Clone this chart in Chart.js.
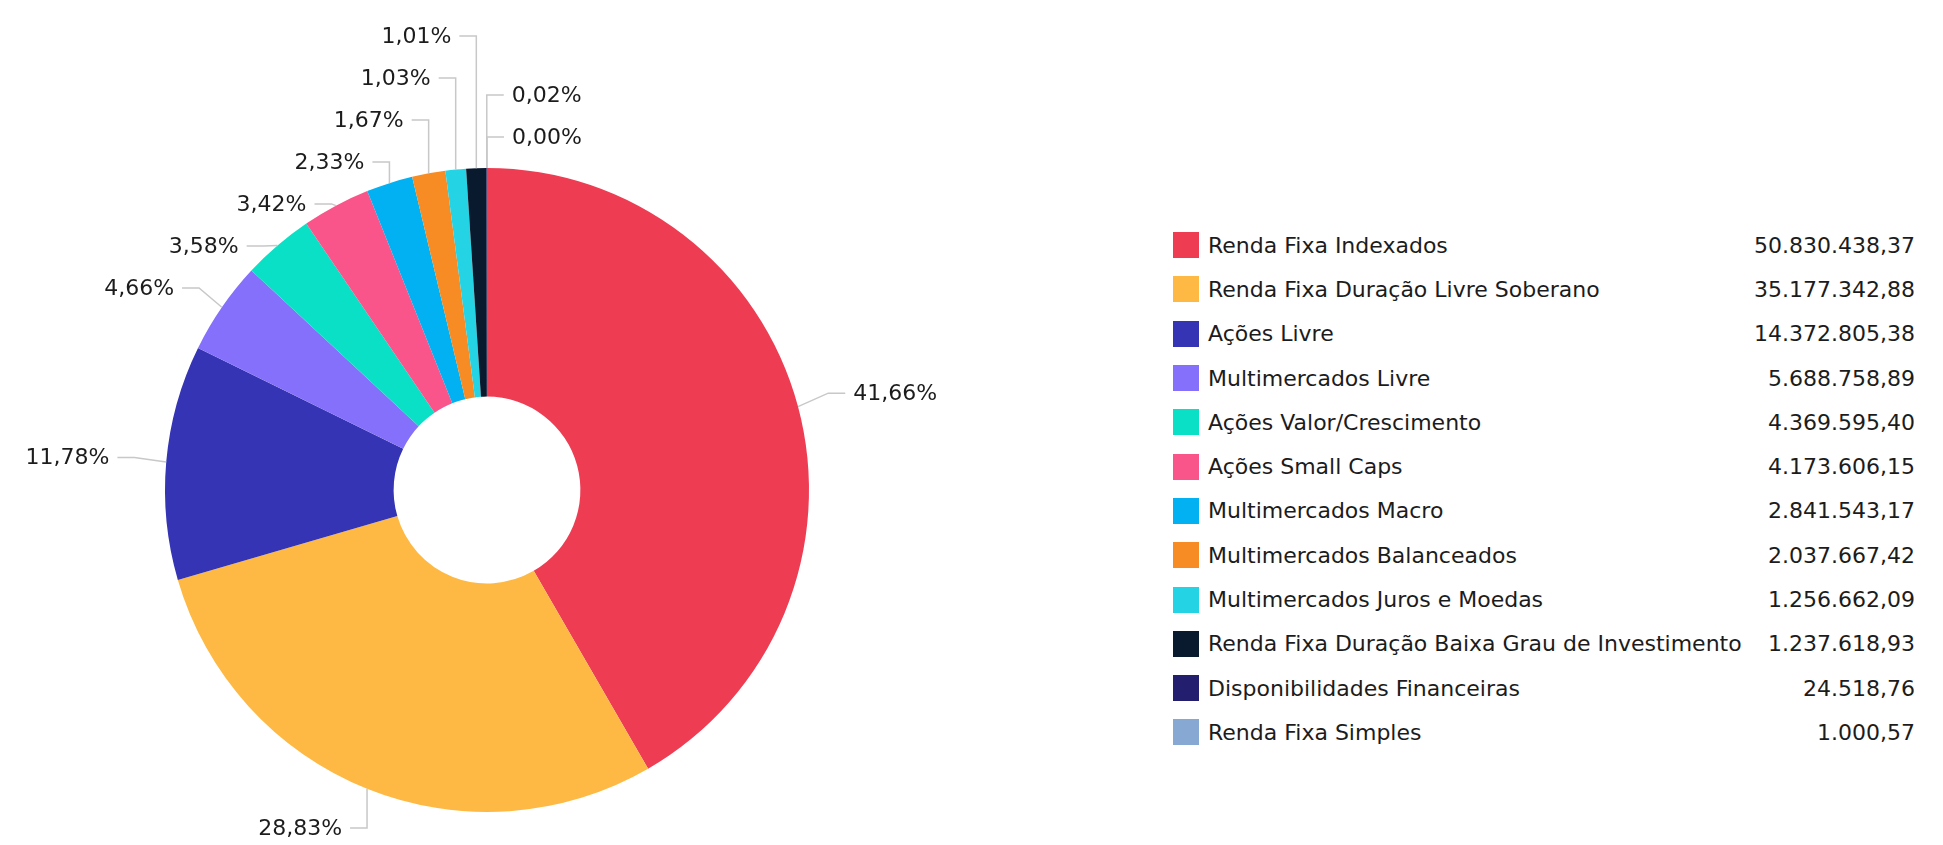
<!DOCTYPE html>
<html>
<head>
<meta charset="utf-8">
<script src="https://cdn.jsdelivr.net/npm/chart.js@4.4.1/dist/chart.umd.min.js"></script>
<style>
  html, body { margin: 0; padding: 0; background: #fff; }
  body { width: 1943px; height: 845px; position: relative; overflow: hidden; font-family: "DejaVu Sans", Verdana, sans-serif; color: #1c1c1c; }
  #chartBox { position: absolute; left: 0; top: 0; width: 975px; height: 845px; }
  #legend { position: absolute; left: 1173px; top: 223px; width: 742px; font-size: 22px; }
  .row { display: flex; align-items: center; height: 44.3px; }
  .swatch { width: 26px; height: 26px; margin-right: 9px; flex: none; }
  .name { flex: 1; white-space: nowrap; }
  .val { white-space: nowrap; text-align: right; }
</style>
</head>
<body>
<div id="chartBox"><canvas id="pieChart"></canvas></div>
<div id="legend"></div>
<script>
// Data
const categories = [
    'Renda Fixa Indexados',
    'Renda Fixa Duração Livre Soberano',
    'Ações Livre',
    'Multimercados Livre',
    'Ações Valor/Crescimento',
    'Ações Small Caps',
    'Multimercados Macro',
    'Multimercados Balanceados',
    'Multimercados Juros e Moedas',
    'Renda Fixa Duração Baixa Grau de Investimento',
    'Disponibilidades Financeiras',
    'Renda Fixa Simples'
];
const values = [
    50830438.37, 35177342.88, 14372805.38, 5688758.89, 4369595.40, 4173606.15,
    2841543.17, 2037667.42, 1256662.09, 1237618.93, 24518.76, 1000.57
];
const colors = [
    '#ee3d53', '#feb944', '#3434b4', '#8470fb', '#0ae0c6', '#f9558a',
    '#02b1f2', '#f78b24', '#25d4e4', '#0a1a2e', '#231e6e', '#88a8d4'
];

const total = values.reduce((a, b) => a + b, 0);
const FONT = '22px "DejaVu Sans", Verdana, sans-serif';

// Helpers
function formatMoney(v) {
    const parts = v.toFixed(2).split('.');
    const int = parts[0].replace(/\B(?=(\d{3})+(?!\d))/g, '.');
    return int + ',' + parts[1];
}

function formatPct(v) {
    return (v / total * 100).toFixed(2).replace('.', ',') + '%';
}

// Legend (HTML)
const legendEl = document.getElementById('legend');
legendEl.innerHTML = categories.map((c, i) => `
    <div class="row">
        <div class="swatch" style="background:${colors[i]}"></div>
        <div class="name">${c}</div>
        <div class="val">${formatMoney(values[i])}</div>
    </div>`).join('');

// Spread labels on one side so they do not overlap
function spread(list, gap, minY, maxY) {
    list.sort((a, b) => (Math.round(a.ideal) - Math.round(b.ideal)) || (a.i - b.i));
    const groups = [];
    const fit = g => {
        let t = g.items.reduce((s, l, j) => s + l.ideal - j * gap, 0) / g.items.length;
        t = Math.max(minY, Math.min(maxY - (g.items.length - 1) * gap, t));
        g.top = t;
    };
    list.forEach(l => {
        const g = { items: [l] };
        fit(g);
        groups.push(g);
        while (groups.length > 1) {
            const cur = groups[groups.length - 1];
            const prev = groups[groups.length - 2];
            if (prev.top + prev.items.length * gap <= cur.top) break;
            prev.items = prev.items.concat(cur.items);
            groups.pop();
            fit(prev);
        }
    });
    groups.forEach(g => g.items.forEach((l, j) => { l.y = g.top + j * gap; }));
}

// Outside labels with connector lines
const outerLabels = {
    id: 'outerLabels',
    afterDatasetsDraw(chart) {
        const ctx = chart.ctx;
        const meta = chart.getDatasetMeta(0);
        const labelDistance = 52;
        const items = meta.data.map((arc, i) => {
            const p = arc.getProps(['x', 'y', 'startAngle', 'endAngle', 'outerRadius'], true);
            const mid = (p.startAngle + p.endAngle) / 2;
            const R = p.outerRadius + labelDistance;
            return {
                i: i, cx: p.x, cy: p.y, R: R,
                ex: p.x + Math.cos(mid) * p.outerRadius,
                ey: p.y + Math.sin(mid) * p.outerRadius,
                ideal: p.y + Math.sin(mid) * R,
                left: Math.cos(mid) < -0.01,
                text: formatPct(values[i])
            };
        });
        const h = chart.height;
        spread(items.filter(l => l.left), 42, 17, h - 17);
        spread(items.filter(l => !l.left), 42, 17, h - 17);

        ctx.save();
        ctx.font = FONT;
        ctx.textBaseline = 'middle';
        items.forEach(l => {
            const dy = Math.max(Math.abs(l.y - l.cy), Math.abs(l.ideal - l.cy));
            const circ = Math.sqrt(Math.max(0, l.R * l.R - dy * dy));
            let textX, bx, lx;
            if (l.left) {
                textX = Math.min(l.cx - circ - 5, l.ex - 25);
                bx = textX + 25;
                lx = textX + 8;
                ctx.textAlign = 'right';
            } else {
                textX = Math.max(l.cx + circ + 5, l.ex + 25);
                bx = textX - 25;
                lx = textX - 8;
                ctx.textAlign = 'left';
            }
            ctx.beginPath();
            ctx.moveTo(l.ex, l.ey);
            ctx.lineTo(bx, l.y);
            ctx.lineTo(lx, l.y);
            ctx.strokeStyle = '#c8c8c8';
            ctx.lineWidth = 1.5;
            ctx.stroke();
            ctx.fillStyle = '#1c1c1c';
            ctx.fillText(l.text, textX, l.y + 1);
        });
        ctx.restore();
    }
};

// Chart
const ctx = document.getElementById('pieChart').getContext('2d');
const pieChart = new Chart(ctx, {
    type: 'doughnut',
    data: {
        labels: categories,
        datasets: [{
            data: values,
            backgroundColor: colors,
            borderWidth: 0,
            hoverOffset: 0
        }]
    },
    options: {
        responsive: true,
        maintainAspectRatio: false,
        animation: false,
        cutout: '29%',
        layout: {
            padding: { top: 168, bottom: 33, left: 165, right: 166 }
        },
        plugins: {
            legend: { display: false },
            tooltip: { enabled: false }
        }
    },
    plugins: [outerLabels]
});
</script>
</body>
</html>
